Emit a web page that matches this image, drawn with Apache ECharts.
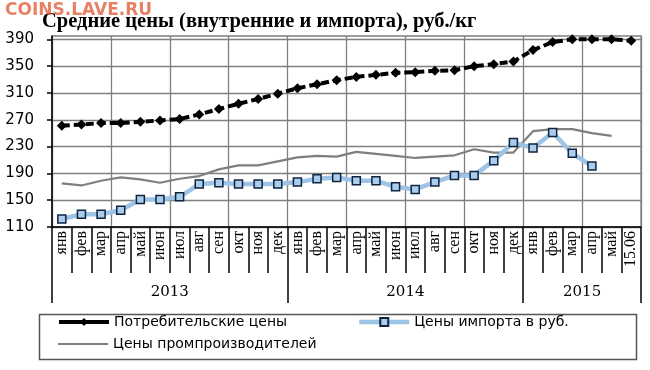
<!DOCTYPE html>
<html><head><meta charset="utf-8">
<script src="https://cdn.jsdelivr.net/npm/echarts@6/dist/echarts.min.js"></script>
<style>html,body{margin:0;padding:0;background:#fff}#c{width:650px;height:370px}</style>
</head><body><div id="c"></div>
<script>
const months = ['янв','фев','мар','апр','май','июн','июл','авг','сен','окт','ноя','дек',
                'янв','фев','мар','апр','май','июн','июл','авг','сен','окт','ноя','дек',
                'янв','фев','мар','апр','май','15.06'];
const years = ['2013','2014','2015'];
const yearLengths = [12,12,6];
const yTicks = [110,150,190,230,270,310,350,390];
const seriesNames = ['Потребительские цены','Цены импорта в руб.','Цены промпроизводителей'];
const consumer = [261,263,265,265,267,269,271,278,286,294,301,309,
                  317,323,329,334,337,340,341,343,344,350,353,357,
                  374,386,390,390,390,388];
const importRub = [122,129,129,135,151,151,155,174,176,174,174,174,
                   177,182,184,179,179,170,166,177,187,187,209,236,
                   228,251,220,201,null,null];
const producer = [175,172,179,184,181,176,182,186,196,202,202,208,
                  214,216,215,222,219,216,213,215,217,226,221,221,
                  253,256,256,250,246,null];

const boundaries = [0];
yearLengths.forEach(n => boundaries.push(boundaries[boundaries.length-1] + n));
const centers = yearLengths.map((n,i) => boundaries[i] + n/2);

const chart = echarts.init(document.getElementById('c'), null, {renderer:'canvas'});
const gridColor = '#7f7f7f';
const legendCommon = {
  orient:'horizontal', padding:0, itemWidth:50, itemHeight:10, itemGap:0,
  selectedMode:false,
  textStyle:{fontFamily:'DejaVu Sans', fontSize:14, color:'#000'}
};
chart.setOption({
  animation:false,
  backgroundColor:'#fff',
  title:{text:'Средние цены (внутренние и импорта), руб./кг', left:37, top:6,
    textStyle:{fontFamily:'Liberation Serif', fontWeight:'bold', fontSize:20.5, color:'#000'}},
  grid:{left:52, right:9, top:36, bottom:143, show:true, borderColor:gridColor, borderWidth:1.3},
  legend:[
    Object.assign({data:[seriesNames[0]], left:57, top:315, lineStyle:{type:'solid', width:4}}, legendCommon),
    Object.assign({data:[seriesNames[1]], left:357, top:315, lineStyle:{type:'solid', width:4.5}}, legendCommon),
    Object.assign({data:[seriesNames[2]], left:57, top:337, lineStyle:{type:'solid', width:2.2}, itemStyle:{opacity:0}}, legendCommon)
  ],
  xAxis:[{
    type:'category', data:months, boundaryGap:true,
    axisLine:{lineStyle:{color:'#000', width:1.5}},
    axisTick:{show:true, interval:0, length:46, lineStyle:{color:'#000', width:1.5}},
    axisLabel:{interval:0, rotate:90, margin:4, fontFamily:'Liberation Serif', fontSize:16, color:'#000'},
    splitLine:{show:true, interval:function(i){return i % 3 === 0;}, lineStyle:{color:gridColor, width:1.3}}
  },{
    type:'value', min:0, max:boundaries[boundaries.length-1], position:'bottom',
    axisLine:{show:false},
    axisTick:{show:true, customValues:boundaries, length:76, lineStyle:{color:'#000', width:1.5}},
    axisLabel:{customValues:centers, margin:58, fontFamily:'DejaVu Serif', fontSize:15, color:'#000',
      formatter:function(v){const i = centers.indexOf(v); return i >= 0 ? years[i] : '';}},
    splitLine:{show:false}
  }],
  yAxis:{
    type:'value', min:110, max:395,
    axisLine:{show:true, lineStyle:{color:'#000', width:1.5}},
    axisTick:{show:true, customValues:yTicks, length:5, lineStyle:{color:'#000', width:1.5}},
    axisLabel:{customValues:yTicks, margin:18, fontFamily:'DejaVu Sans', fontSize:15, color:'#000'},
    splitLine:{show:true, lineStyle:{color:gridColor, width:1.3}}
  },
  series:[{
    name:seriesNames[2], type:'line', data:producer, symbol:'none', showSymbol:false,
    lineStyle:{color:'#7f7f7f', width:2.2}, itemStyle:{color:'#7f7f7f'}, z:2
  },{
    name:seriesNames[1], type:'line', data:importRub, symbol:'rect', symbolSize:8,
    lineStyle:{color:'#9dc3e6', width:4.5},
    itemStyle:{color:'#a9cdec', borderColor:'#10243e', borderWidth:1.5}, z:3
  },{
    name:seriesNames[0], type:'line', data:consumer, symbol:'diamond', symbolSize:10,
    lineStyle:{color:'#000', width:4, type:[8,4]}, itemStyle:{color:'#000'}, z:4
  }],
  graphic:[
    {type:'rect', left:37, top:312, shape:{width:597, height:45}, style:{fill:'none', stroke:'#555', lineWidth:1.5}, z:0},
    {type:'text', left:5, top:2, style:{text:'COINS.LAVE.RU', font:'bold 17px "DejaVu Sans"', fill:'rgba(226,92,58,0.78)'}, z:100}
  ]
});
</script></body></html>
